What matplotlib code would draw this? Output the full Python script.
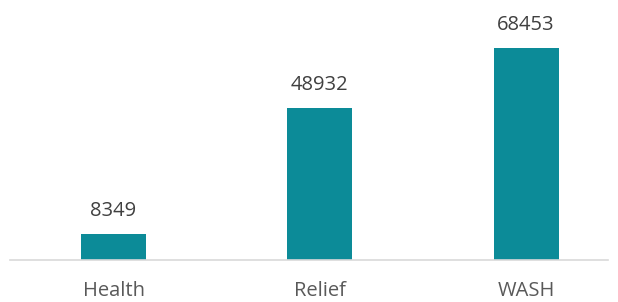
import matplotlib
matplotlib.use("Agg")
import matplotlib.pyplot as plt

categories = ["Health", "Relief", "WASH"]
values = [8349, 48932, 68453]

W, H = 618, 302
fig = plt.figure(figsize=(W/100, H/100), dpi=100)
left, right = 10, 608
top, base = 10, 260
ax = fig.add_axes([left/W, (H-base)/H, (right-left)/W, (base-top)/H])

unit = 206.25
x0 = 113.5
ax.set_xlim((left - x0)/unit, (right - x0)/unit)
ax.set_ylim(0, 68453 * (base - top) / 212.0)

color = "#0c8b98"
bars = ax.bar(range(len(categories)), values, width=65/unit, color=color)

font = ["Open Sans", "DejaVu Sans"]
for i, v in enumerate(values):
    ax.annotate(str(v), (i, v), xytext=(0, 13), textcoords="offset pixels",
                ha="center", va="bottom", fontsize=14.5, color="#404040", family=font)

for s in ["top", "right", "left"]:
    ax.spines[s].set_visible(False)
ax.spines["bottom"].set_color("#d9d9d9")
ax.spines["bottom"].set_linewidth(1.2)
ax.set_yticks([])
ax.set_xticks(range(len(categories)))
ax.set_xticklabels(categories, fontsize=14.5, color="#595959", family=font)
ax.tick_params(axis="x", length=0, pad=15)

fig.savefig("out.png", dpi=100)
